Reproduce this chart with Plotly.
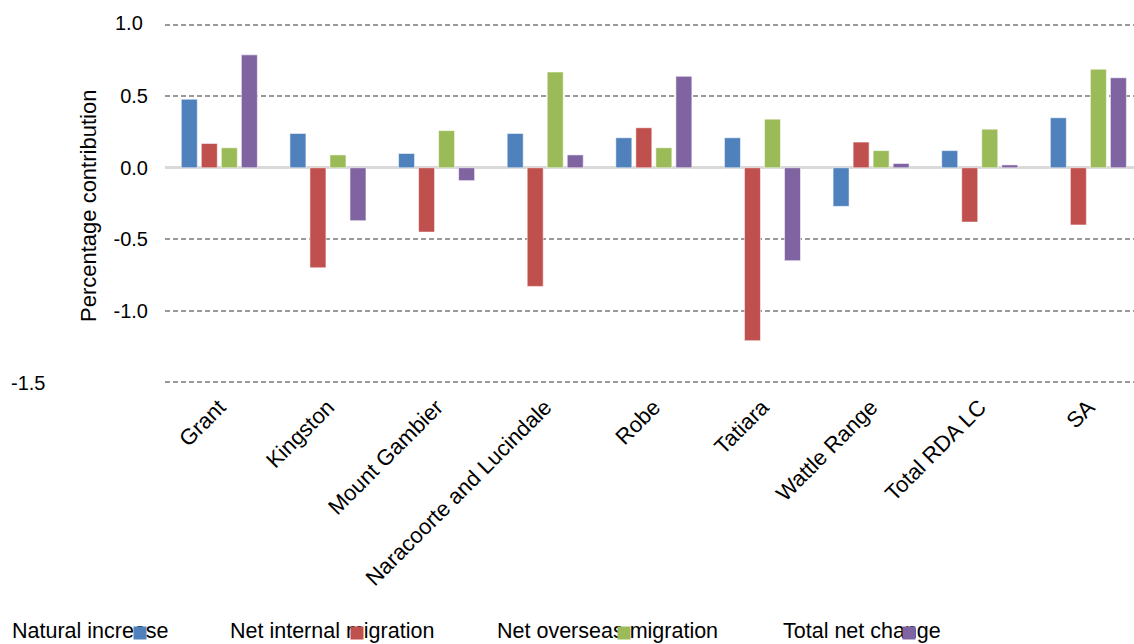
import plotly.graph_objects as go

# Regions and the components of annual population change (%)
regions = ["Grant", "Kingston", "Mount Gambier", "Naracoorte and Lucindale",
           "Robe", "Tatiara", "Wattle Range", "Total RDA LC", "SA"]
natural_increase = [0.48, 0.24, 0.10, 0.24, 0.21, 0.21, -0.27, 0.12, 0.35]
net_internal_migration = [0.17, -0.70, -0.45, -0.83, 0.28, -1.21, 0.18, -0.38, -0.40]
net_overseas_migration = [0.14, 0.09, 0.26, 0.67, 0.14, 0.34, 0.12, 0.27, 0.69]
total_net_change = [0.79, -0.37, -0.09, 0.09, 0.64, -0.65, 0.03, 0.02, 0.63]

series_names = ["Natural increase", "Net internal migration",
                "Net overseas migration", "Total net change"]
series_values = [natural_increase, net_internal_migration,
                 net_overseas_migration, total_net_change]
colors = ["#4F81BD", "#C0504D", "#9BBB59", "#8064A2"]

y_ticks = [1.0, 0.5, 0.0, -0.5, -1.0, -1.5]
y_tick_text = ["", "0.5", "0.0", "-0.5", "-1.0", ""]

W, H = 1134, 644
L, R, T, B = 165, 0, 22, 259
Y_RANGE = [-1.52, 1.02]
FONT = "Liberation Sans, Arial, sans-serif"

fig = go.Figure()
for name, vals, col in zip(series_names, series_values, colors):
    fig.add_trace(go.Bar(
        x=regions, y=vals, name=name,
        marker=dict(color=col, line=dict(color="rgba(255,255,255,0.55)", width=1)),
        showlegend=False,
    ))

plot_w = W - L - R
plot_h = H - T - B


def px_x(px):
    return (px - L) / plot_w


def px_y(py):
    return (H - B - py) / plot_h


annotations = [
    # outlying y tick labels
    dict(text="1.0", x=px_x(145), y=px_y(23), xref="paper", yref="paper",
         xanchor="right", yanchor="middle", showarrow=False,
         font=dict(family=FONT, size=20, color="#000")),
    dict(text="-1.5", x=px_x(9), y=px_y(383), xref="paper", yref="paper",
         xanchor="left", yanchor="middle", showarrow=False,
         font=dict(family=FONT, size=20, color="#000")),
    # y axis title
    dict(text="Percentage contribution", x=px_x(88), y=px_y(206),
         xref="paper", yref="paper", xanchor="center", yanchor="middle",
         textangle=-90, showarrow=False,
         font=dict(family=FONT, size=22, color="#000")),
]

# legend: label text followed by a colour key, along the bottom edge
legend_text_x = [11, 229, 496, 782]
legend_key_x = [133, 350, 617, 902]
legend_key_y = 633
for name, col, tx in zip(series_names, colors, legend_text_x):
    annotations.append(dict(
        text=name, x=px_x(tx), y=px_y(H), xref="paper", yref="paper",
        xanchor="left", yanchor="bottom", showarrow=False, borderpad=0,
        font=dict(family=FONT, size=21.5, color="#000")))
for col, kx in zip(colors, legend_key_x):
    annotations.append(dict(
        text=" ", x=px_x(kx), y=px_y(legend_key_y), xref="paper", yref="paper",
        xanchor="left", yanchor="middle", showarrow=False,
        width=12, height=12, bgcolor=col, borderpad=0,
        font=dict(family=FONT, size=1, color=col)))

fig.update_layout(
    width=W, height=H,
    margin=dict(l=L, r=R, t=T, b=B, autoexpand=False),
    paper_bgcolor="white", plot_bgcolor="white",
    barmode="group", bargap=0.263, bargroupgap=0.2,
    font=dict(family=FONT, size=20, color="#000"),
    showlegend=False,
    annotations=annotations,
)
fig.update_xaxes(
    range=[-0.5, 8.42], tickangle=-45, showgrid=False, showline=False,
    ticks="", ticklabelstandoff=4,
    tickfont=dict(family=FONT, size=22, color="#000"),
    automargin=False,
)
fig.update_yaxes(
    range=Y_RANGE, tickvals=y_ticks, ticktext=y_tick_text,
    showgrid=True, gridcolor="#999999", gridwidth=1.5, griddash="5px,3px",
    zeroline=True, zerolinecolor="#D9D9D9", zerolinewidth=3,
    showline=False, ticks="", ticklabelstandoff=16,
    tickfont=dict(family=FONT, size=20, color="#000"),
    automargin=False,
)

fig.write_html("out.html")
